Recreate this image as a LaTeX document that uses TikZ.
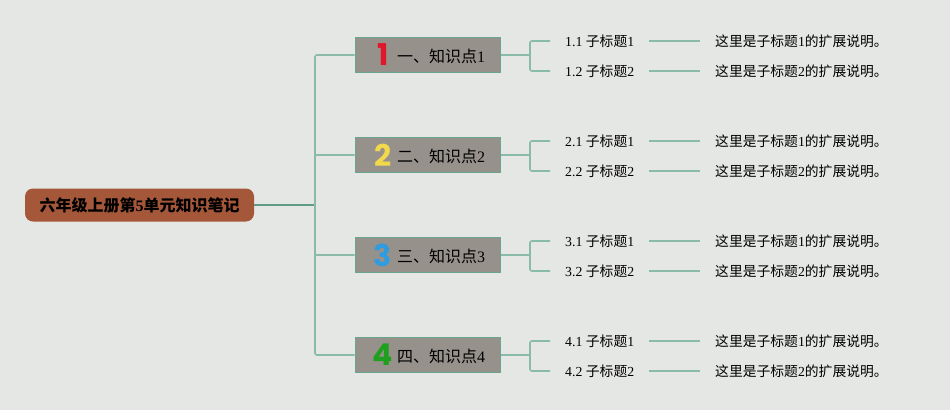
\documentclass[tikz,border=0pt]{standalone}
\usepackage{fontspec}
\setmainfont{Liberation Serif}
\newfontfamily\cjk{Noto Sans CJK SC}
\newfontfamily\numfont{Poppins}
\usepackage{tikz}

\definecolor{bggrey}{HTML}{E5E7E4}
\definecolor{rootbrown}{HTML}{A5573A}
\definecolor{boxgrey}{HTML}{96918A}
\definecolor{boxedge}{HTML}{6AA590}
\definecolor{linegreen}{HTML}{8ABBA7}
\definecolor{rootline}{HTML}{5F9C86}
\definecolor{num1}{HTML}{E0162B}
\definecolor{num2}{HTML}{F2D94B}
\definecolor{num3}{HTML}{2F9BE0}
\definecolor{num4}{HTML}{1EA01E}

\begin{document}
\begin{tikzpicture}[
		x=1pt, y=-1pt,
		every node/.style={inner sep=0pt},
		topic/.style={rectangle, draw=boxedge, fill=boxgrey, line width=1pt, minimum width=145pt, minimum height=35pt},
		subnode/.style={anchor=west, inner xsep=15pt, font=\fontsize{13.8}{16}\selectfont},
		branch/.style={draw=linegreen, line width=1.6pt, rounded corners=2pt}
	]
  \fill[bggrey] (0,0) rectangle (950,410);
  \useasboundingbox (0,0) rectangle (950,410);
  % central topic
  \node (root) [rectangle, rounded corners=8pt, fill=rootbrown, minimum width=229pt, minimum height=33pt,
    font=\cjk\bfseries\fontsize{16}{18}\selectfont] at (139.5,205) {六年级上册第{\rmfamily\bfseries 5}单元知识笔记};
  \coordinate (hub) at (315,205);
  \draw[rootline, line width=2pt] (root.east) -- (hub);
  \foreach \i/\z in {1/一, 2/二, 3/三, 4/四} {
    \pgfmathsetmacro{\y}{55+(\i-1)*100}
    \node (k_\i) [topic] at (427.5,\y) {};
    \node (n_\i) [font=\numfont\bfseries\fontsize{30}{30}\selectfont, text=num\i] at (383,\y) {\i};
    \node (l_\i) [anchor=west, font=\fontsize{16}{18}\selectfont] at (397,\y+1) {{\cjk \z、知识点}\i};
    \coordinate (j_\i) at (530,\y);
    \draw[branch] (k_\i.west) -| (hub);
    \draw[branch] (k_\i.east) -- (j_\i);
    \node (s_\i_1) [subnode] at (550,\y-14) {\i.1 {\cjk 子标题}1};
    \node (s_\i_2) [subnode] at (550,\y+16) {\i.2 {\cjk 子标题}2};
    \node (d_\i_1) [subnode] at (700,\y-14) {{\cjk 这里是子标题}1{\cjk 的扩展说明。}};
    \node (d_\i_2) [subnode] at (700,\y+16) {{\cjk 这里是子标题}2{\cjk 的扩展说明。}};
    \draw[branch] (s_\i_1.west) -| (j_\i) |- (s_\i_2.west);
    \draw[branch] (s_\i_1.east) -- (d_\i_1.west);
    \draw[branch] (s_\i_2.east) -- (d_\i_2.west);
  }
\end{tikzpicture}
\end{document}
